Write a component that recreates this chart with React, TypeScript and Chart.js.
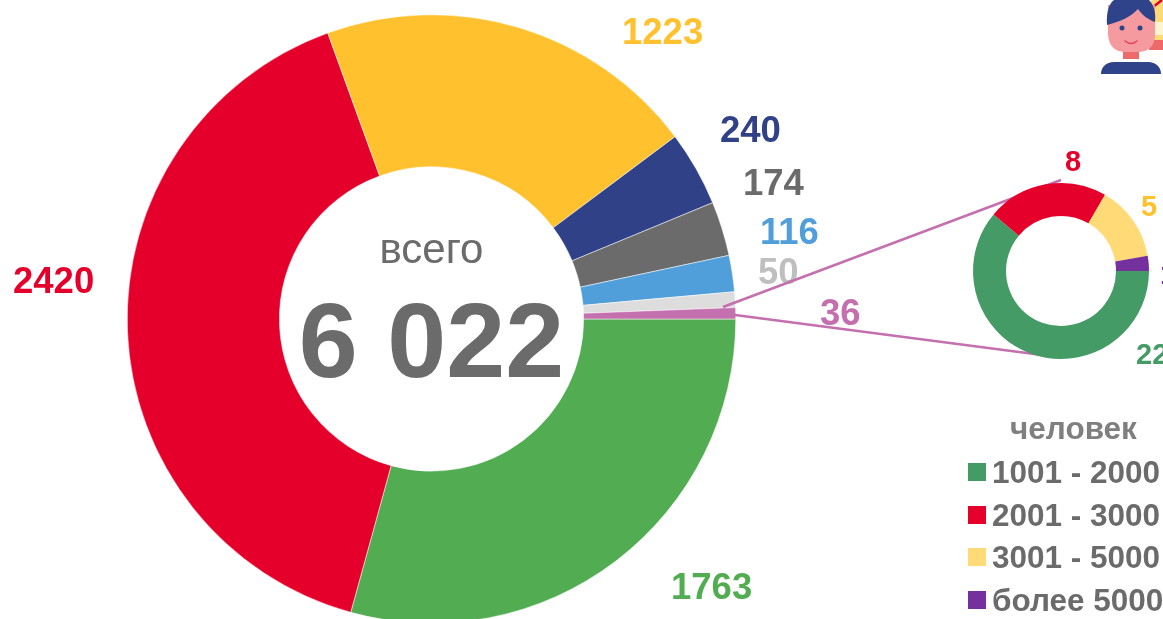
import React, { useEffect, useRef } from "react";
import { Chart, registerables } from "chart.js";

Chart.register(...registerables);

const FONT = '"Liberation Sans", Arial, sans-serif';

// Main doughnut
const mainCategories = ["1763", "2420", "1223", "240", "174", "116", "50", "36"];
const mainValues = [1763, 2420, 1223, 240, 174, 116, 50, 36];
const mainColors = ["#52AC52", "#E4002B", "#FFC12E", "#314188", "#6B6B6B", "#519FDA", "#DDDDDD", "#C46FAE"];
const mainLabelColors = ["#52AC52", "#E4002B", "#FFC12E", "#314188", "#6B6B6B", "#519FDA", "#BFBFBF", "#C46FAE"];
const mainLabelX = [671, 13, 622, 720, 743, 760, 758, 820];
const mainLabelY = [599, 293, 44, 142, 195, 244, 284, 325];
const totalCaption = "всего";
const totalValue = "6 022";

// Breakdown doughnut
const subCategories = ["1001 - 2000", "2001 - 3000", "3001 - 5000", "более 5000"];
const subValues = [22, 8, 5, 1];
const subColors = ["#449B66", "#E4002B", "#FFDA77", "#74309C"];
const subLabelColors = ["#449B66", "#E4002B", "#FFC12E", "#74309C"];
const subLabelX = [1136, 1065, 1141, 1160];
const subLabelY = [364, 171, 216, 284];
const legendTitle = "человек";
const legendY = [483, 526, 568, 611];

const LINE = "#C46FAE";

function Person() {
  return (
    <svg width={70} height={80} viewBox="0 0 70 80"
      style={{ position: "absolute", left: 1093, top: 0, display: "block" }}>
      <rect x={58} y={0} width={12} height={42} fill="#FFDA77" />
      <rect x={56} y={40} width={14} height={10} fill="#EE6A6A" />
      <rect x={62} y={22} width={8} height={13} fill="#FFF4D0" />
      <line x1={60} y1={7} x2={69} y2={0} stroke="#E4002B" strokeWidth={2.5} />
      <rect x={30} y={48} width={16} height={11} fill="#EE6A6A" />
      <path d="M15 5 L62 5 L62 34 Q62 52 44 52 L33 52 Q16 52 15 34 Z" fill="#F59BA0" />
      <path d="M14 25 C13 10 17 3 21 0 L56 0 C61 5 63 13 62 22 C56 20 50 16 45 9 C38 17 26 22 14 25 Z" fill="#2E4389" />
      <circle cx={29} cy={28} r={2.5} fill="#2E4389" />
      <circle cx={47} cy={28} r={2.5} fill="#2E4389" />
      <path d="M32 41 Q38 46 44 41" fill="none" stroke="#E8425A" strokeWidth={1.6} strokeLinecap="round" />
      <path d="M8 74 C8 67 13 62 21 62 L55 62 C63 62 68 67 68 74 Z" fill="#2E4389" />
    </svg>
  );
}

export default function App() {
  const mainRef = useRef<HTMLCanvasElement | null>(null);
  const subRef = useRef<HTMLCanvasElement | null>(null);

  useEffect(() => {
    document.body.style.margin = "0";

    const mainPlugin = {
      id: "mainText",
      afterDraw(chart: any) {
        const { ctx } = chart;
        const arcs = chart.getDatasetMeta(0).data;
        const cx = arcs[0].x;
        ctx.save();
        ctx.textAlign = "left";
        ctx.textBaseline = "alphabetic";
        ctx.font = `bold 36.5px ${FONT}`;
        mainCategories.forEach((t, i) => {
          ctx.fillStyle = mainLabelColors[i];
          ctx.fillText(t, mainLabelX[i], mainLabelY[i]);
        });
        ctx.textAlign = "center";
        ctx.fillStyle = "#6B6B6B";
        ctx.font = `42px ${FONT}`;
        ctx.fillText(totalCaption, cx, 263);
        ctx.font = `bold 106px ${FONT}`;
        ctx.fillText(totalValue, cx, 377);
        // leader lines from the smallest slice
        ctx.strokeStyle = LINE;
        ctx.lineWidth = 2.5;
        ctx.beginPath();
        ctx.moveTo(723, 307);
        ctx.lineTo(1061, 180);
        ctx.moveTo(735, 315);
        ctx.lineTo(1042, 355);
        ctx.stroke();
        ctx.restore();
      },
    };

    const subPlugin = {
      id: "subText",
      afterDraw(chart: any) {
        const { ctx } = chart;
        ctx.save();
        ctx.textBaseline = "alphabetic";
        ctx.textAlign = "left";
        ctx.font = `bold 29px ${FONT}`;
        subValues.forEach((v, i) => {
          ctx.fillStyle = subLabelColors[i];
          ctx.fillText(String(v), subLabelX[i], subLabelY[i]);
        });
        ctx.fillStyle = "#7F7F7F";
        ctx.font = `bold 31.5px ${FONT}`;
        ctx.fillText(legendTitle, 1010, 439);
        ctx.font = `bold 31.5px ${FONT}`;
        subCategories.forEach((t, i) => {
          ctx.fillStyle = subColors[i];
          ctx.fillRect(968, legendY[i] - 20, 18, 18);
          ctx.fillStyle = "#6B6B6B";
          ctx.fillText(t, 992, legendY[i]);
        });
        ctx.restore();
      },
    };

    const main = new Chart(mainRef.current!, {
      type: "doughnut",
      data: {
        labels: mainCategories,
        datasets: [{ data: mainValues, backgroundColor: mainColors, borderColor: "#FFFFFF", borderWidth: 0.5 }],
      },
      options: {
        animation: false,
        responsive: false,
        rotation: 90,
        cutout: "50%",
        layout: { padding: { left: 127, right: 427, top: 14, bottom: 0 } },
        plugins: { legend: { display: false }, tooltip: { enabled: false } },
      },
      plugins: [mainPlugin],
    } as any);

    const sub = new Chart(subRef.current!, {
      type: "doughnut",
      data: {
        labels: subCategories,
        datasets: [{ data: subValues, backgroundColor: subColors, borderColor: "#FFFFFF", borderWidth: 0 }],
      },
      options: {
        animation: false,
        responsive: false,
        rotation: 90,
        cutout: "62.5%",
        layout: { padding: { left: 973, right: 14, top: 183, bottom: 260 } },
        plugins: { legend: { display: false }, tooltip: { enabled: false } },
      },
      plugins: [subPlugin],
    } as any);

    return () => {
      main.destroy();
      sub.destroy();
    };
  }, []);

  return (
    <div style={{ position: "relative", width: 1163, height: 619, overflow: "hidden", background: "#fff" }}>
      <canvas ref={mainRef} width={1163} height={624} style={{ position: "absolute", left: 0, top: 0, width: 1163, height: 624 }} />
      <canvas ref={subRef} width={1163} height={619} style={{ position: "absolute", left: 0, top: 0, width: 1163, height: 619 }} />
      <Person />
    </div>
  );
}
